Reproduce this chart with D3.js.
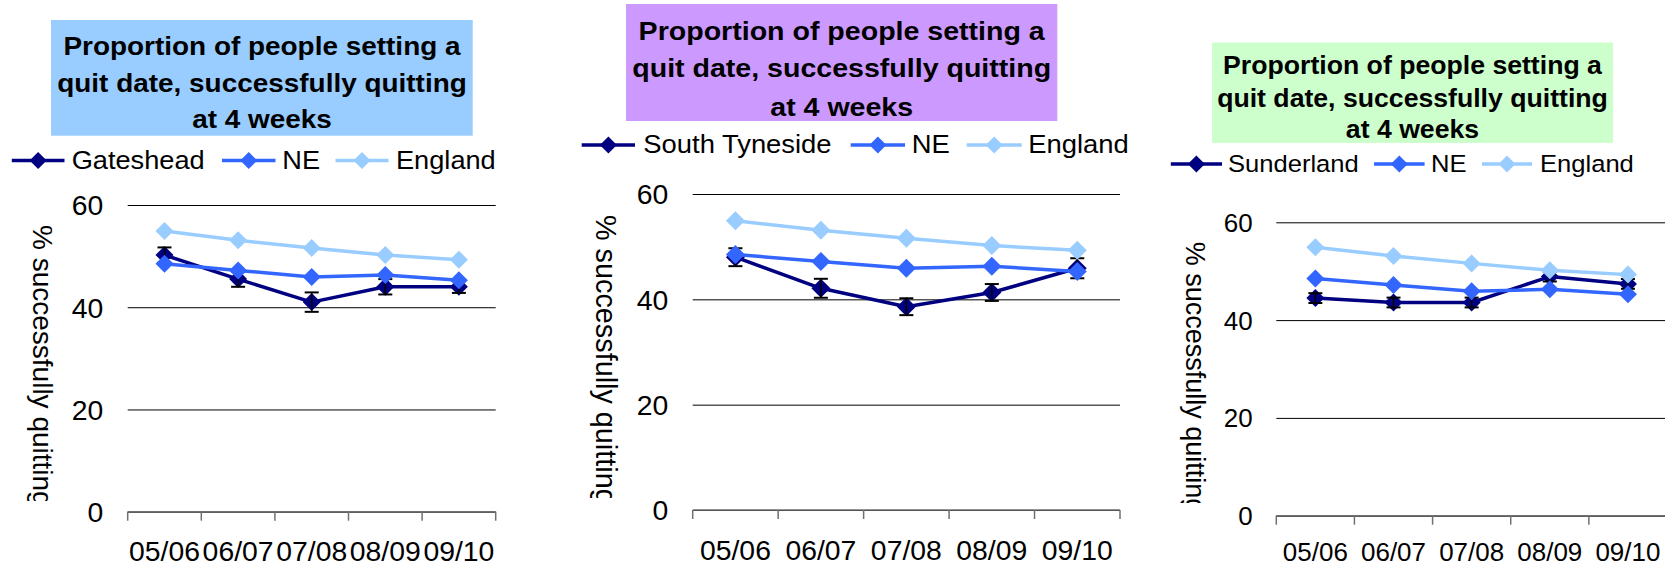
<!DOCTYPE html>
<html><head><meta charset="utf-8">
<script src="https://cdn.jsdelivr.net/npm/d3@7"></script>
<style>html,body{margin:0;padding:0;background:#fff;overflow:hidden;} svg{display:block;font-family:"Liberation Sans",Arial,Helvetica,sans-serif;}</style>
</head><body><svg id="c" width="1665" height="569"></svg>
<script>
// ---------- data ----------
const categories = ["05/06", "06/07", "07/08", "08/09", "09/10"];
const yTicks = [0, 20, 40, 60];
const titleLines = ["Proportion of people setting a", "quit date, successfully quitting", "at 4 weeks"];
const yAxisTitle = "% successfully quitting";
const neValues = [48.5, 47.2, 45.9, 46.3, 45.3];
const englandValues = [54.9, 53.1, 51.6, 50.2, 49.3];
const gatesheadValues = [50.2, 45.5, 41.0, 44.0, 44.0];
const gatesheadErr = [1.5, 1.5, 1.9, 1.5, 1.2];
const southTynesideValues = [48.0, 42.1, 38.6, 41.3, 45.9];
const southTynesideErr = [1.7, 1.8, 1.6, 1.6, 1.9];
const sunderlandValues = [44.5, 43.6, 43.6, 48.9, 47.4];
const sunderlandErr = [1.0, 1.0, 1.0, 1.0, 1.0];
const localNames = ["Gateshead", "South Tyneside", "Sunderland"];
const otherNames = ["NE", "England"];

// ---------- styles / layout ----------
const colors = {local: "#000080", ne: "#3366FF", england: "#99CCFF"};
const boxColors = ["#99CCFF", "#CC99FF", "#CCFFCC"];
const STRETCH = 1.07;
const TICK_STRETCH = 1.035;

const layouts = [
  {plotL:127.7, plotR:495.7, y0:511.7, y60:205, box:[51,20,472.7,135.7], tb:[55,91.5,128], tcx:262, tFont:26.1,
   lgY:160.5, lgBase:169.3, lg:[[11.8,64.5,71.7],[222,275.5,282.3],[335.5,388.5,396]], lgFont:25.4,
   tickFont:27.4, xBase:561, pad:24.4, yt:{x:33, y:225, font:28, clip:501}, mk:9},
  {plotL:692.7, plotR:1120, y0:510, y60:194, box:[626,4,1057.3,121], tb:[39.7,77.2,115.5], tcx:841.7, tFont:26.7,
   lgY:145, lgBase:153, lg:[[581.7,635,643.3],[850.7,905,911.7],[966.7,1021.7,1028.3]], lgFont:25.6,
   tickFont:27.4, xBase:560, pad:24.4, yt:{x:596, y:215, font:28.8, clip:498}, mk:9.5},
  {plotL:1276.3, plotR:1667, y0:515.7, y60:222.3, box:[1212,42.5,1613,143], tb:[73.7,106.5,138], tcx:1412.5, tFont:24.9,
   lgY:164, lgBase:172.4, lg:[[1170.8,1222,1228],[1374,1424.6,1431],[1482,1532,1540]], lgFont:23.9,
   tickFont:25.1, xBase:561, pad:23.6, yt:{x:1185.7, y:241.7, font:27, clip:503}, mk:9}
];

const localData = [
  {values: gatesheadValues, err: gatesheadErr},
  {values: southTynesideValues, err: southTynesideErr},
  {values: sunderlandValues, err: sunderlandErr}
];

const svg = d3.select("#c");
const defs = svg.append("defs");

function stretch(sel, s) {
  sel.each(function () {
    const L = this.getComputedTextLength();
    this.setAttribute("textLength", L * s);
    this.setAttribute("lengthAdjust", "spacingAndGlyphs");
  });
}
function diamond(cx, cy, r) {
  return `M${cx},${cy - r}L${cx + r},${cy}L${cx},${cy + r}L${cx - r},${cy}Z`;
}

layouts.forEach((L, i) => {
  const g = svg.append("g");
  const x = d3.scaleBand().domain(categories).range([L.plotL, L.plotR]).paddingInner(0).paddingOuter(0);
  const xc = c => x(c) + x.bandwidth() / 2;
  const y = d3.scaleLinear().domain([0, 60]).range([L.y0, L.y60]);

  // title box
  g.append("rect").attr("x", L.box[0]).attr("y", L.box[1])
    .attr("width", L.box[2] - L.box[0]).attr("height", L.box[3] - L.box[1])
    .attr("fill", boxColors[i]);
  const tt = g.selectAll(".tl").data(titleLines).join("text")
    .attr("x", L.tcx).attr("y", (d, k) => L.tb[k])
    .attr("text-anchor", "middle").attr("font-weight", "bold")
    .attr("font-size", L.tFont).attr("fill", "#000").text(d => d);
  stretch(tt, STRETCH);

  // legend
  const names = [localNames[i], otherNames[0], otherNames[1]];
  const cols = [colors.local, colors.ne, colors.england];
  names.forEach((nm, k) => {
    const [a, b, tx] = L.lg[k];
    g.append("line").attr("x1", a).attr("x2", b).attr("y1", L.lgY).attr("y2", L.lgY)
      .attr("stroke", cols[k]).attr("stroke-width", 3.5);
    g.append("path").attr("d", diamond((a + b) / 2, L.lgY, 8.5)).attr("fill", cols[k]);
    const t = g.append("text").attr("x", tx).attr("y", L.lgBase).attr("font-size", L.lgFont)
      .attr("fill", "#000").text(nm);
    stretch(t, STRETCH);
  });

  // y axis with gridlines
  const yAxis = d3.axisLeft(y).tickValues(yTicks).tickSize(-(L.plotR - L.plotL))
    .tickPadding(L.pad).tickFormat(d3.format("d"));
  const ya = g.append("g").attr("transform", `translate(${L.plotL},0)`).call(yAxis);
  ya.select(".domain").remove();
  ya.attr("font-family", null).attr("font-size", null);
  ya.selectAll("line").attr("stroke", "#000").attr("stroke-width", 1);
  ya.selectAll("text").attr("font-size", L.tickFont).attr("fill", "#000").attr("dy", "0.36em");
  stretch(ya.selectAll("text"), TICK_STRETCH);

  // x axis
  g.append("line").attr("x1", L.plotL).attr("x2", L.plotR).attr("y1", y(0)).attr("y2", y(0))
    .attr("stroke", "#707070").attr("stroke-width", 1.5);
  const edges = categories.map(c => x(c)).concat([L.plotR]);
  g.selectAll(".xt").data(edges).join("line")
    .attr("x1", d => d).attr("x2", d => d).attr("y1", y(0)).attr("y2", y(0) + 9)
    .attr("stroke", "#707070").attr("stroke-width", 1.5);
  const xl = g.selectAll(".xl").data(categories).join("text")
    .attr("x", d => xc(d)).attr("y", L.xBase).attr("text-anchor", "middle")
    .attr("font-size", L.tickFont).attr("fill", "#000").text(d => d);
  stretch(xl, TICK_STRETCH);

  // y axis title (rotated, clipped at the bottom)
  const cid = "clip" + i;
  defs.append("clipPath").attr("id", cid).attr("clipPathUnits", "userSpaceOnUse").append("rect")
    .attr("x", L.yt.x - 40).attr("y", 0).attr("width", 80).attr("height", L.yt.clip);
  g.append("g").attr("clip-path", `url(#${cid})`)
    .append("text")
    .attr("transform", `translate(${L.yt.x},${L.yt.y}) rotate(90)`)
    .attr("font-size", L.yt.font).attr("fill", "#000").text(yAxisTitle);

  // series
  const line = d3.line().x((d, k) => xc(categories[k])).y(d => y(d));
  const loc = localData[i];
  const series = [
    {vals: loc.values, col: colors.local, err: loc.err},
    {vals: neValues, col: colors.ne},
    {vals: englandValues, col: colors.england}
  ];
  series.forEach(s => {
    g.append("path").attr("d", line(s.vals)).attr("fill", "none")
      .attr("stroke", s.col).attr("stroke-width", 3.5).attr("stroke-linejoin", "round");
    g.selectAll(null).data(s.vals).join("path")
      .attr("d", (d, k) => diamond(xc(categories[k]), y(d), L.mk)).attr("fill", s.col);
    if (s.err) {
      s.vals.forEach((v, k) => {
        const cx = xc(categories[k]);
        const e = s.err[k];
        g.append("line").attr("x1", cx).attr("x2", cx).attr("y1", y(v + e)).attr("y2", y(v - e))
          .attr("stroke", "#000").attr("stroke-width", 1.5);
        [v + e, v - e].forEach(w => {
          g.append("line").attr("x1", cx - 7).attr("x2", cx + 7).attr("y1", y(w)).attr("y2", y(w))
            .attr("stroke", "#000").attr("stroke-width", 2);
        });
      });
    }
  });
});
</script>
</body></html>
